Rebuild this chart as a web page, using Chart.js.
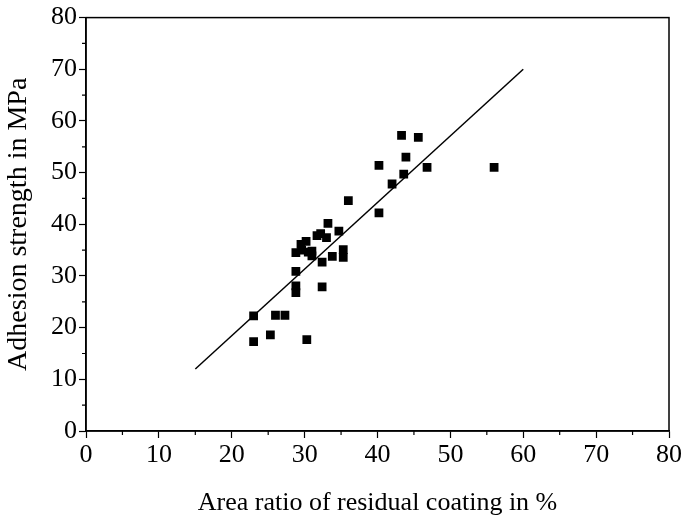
<!DOCTYPE html>
<html>
<head>
<meta charset="utf-8">
<script src="https://cdn.jsdelivr.net/npm/chart.js@4"></script>
<style>
  html, body { margin: 0; padding: 0; background: #fff; }
  #wrap { width: 685px; height: 520px; }
</style>
</head>
<body>
<div id="wrap"><canvas id="myChart"></canvas></div>
<script>
// measured points: area ratio (%) vs adhesion strength (MPa)
const areaRatio = [23.0, 23.0, 25.3, 26.0, 27.3, 28.8, 28.8, 28.8, 28.8, 29.5, 29.6, 30.2, 30.3, 30.5, 31.0, 31.0,
  31.7, 32.2, 32.4, 32.4, 33.0, 33.2, 33.8, 34.7, 35.3, 35.3, 36.0, 40.2, 40.2, 42.0, 43.3, 43.6, 43.9, 45.6, 46.8, 56.0];
const adhesion = [22.3, 17.3, 18.6, 22.4, 22.4, 30.9, 28.1, 26.8, 34.5, 36.1, 35.0, 36.7, 17.7, 34.6, 33.9, 34.8,
  37.8, 38.2, 32.7, 27.9, 37.4, 40.2, 33.8, 38.7, 35.1, 33.6, 44.6, 51.4, 42.2, 47.8, 57.2, 49.7, 53.0, 56.8, 51.0, 51.0];

// fitted line end points
const fitX = [15, 60];
const fitY = [12, 70];

const xTicks = [0, 10, 20, 30, 40, 50, 60, 70, 80];
const yTicks = [0, 10, 20, 30, 40, 50, 60, 70, 80];

const font = 'Liberation Serif';

// frame + minor ticks
const frame = {
  id: 'frame',
  afterDraw(chart) {
    const { ctx, chartArea: a, scales } = chart;
    ctx.save();
    ctx.strokeStyle = '#000';
    ctx.lineWidth = 1.5;
    ctx.strokeRect(a.left, a.top, a.right - a.left, a.bottom - a.top);
    ctx.lineWidth = 1.2;
    ctx.beginPath();
    for (let v = 5; v < 80; v += 10) {
      const px = scales.x.getPixelForValue(v);
      ctx.moveTo(px, a.bottom);
      ctx.lineTo(px, a.bottom + 4);
      const py = scales.y.getPixelForValue(v);
      ctx.moveTo(a.left, py);
      ctx.lineTo(a.left - 4, py);
    }
    ctx.stroke();
    ctx.restore();
  }
};

new Chart(document.getElementById('myChart'), {
  type: 'scatter',
  data: {
    datasets: [{
      data: areaRatio.map((x, i) => ({ x: x, y: adhesion[i] })),
      pointStyle: 'rect',
      pointRadius: 6.2,
      backgroundColor: '#000',
      borderColor: '#000',
      borderWidth: 0
    }, {
      data: fitX.map((x, i) => ({ x: x, y: fitY[i] })),
      showLine: true,
      pointRadius: 0,
      borderColor: '#000',
      borderWidth: 1.5
    }]
  },
  options: {
    responsive: true,
    maintainAspectRatio: false,
    animation: false,
    layout: { padding: { top: 13, right: 16, left: 0, bottom: 0 } },
    plugins: { legend: { display: false }, tooltip: { enabled: false } },
    scales: {
      x: {
        type: 'linear',
        min: 0, max: 80,
        afterBuildTicks: s => { s.ticks = xTicks.map(v => ({ value: v })); },
        afterFit: s => { s.height = 89; },
        grid: { display: true, drawOnChartArea: false, tickLength: 7, tickColor: '#000', tickWidth: 1.2 },
        border: { display: true, color: '#000', width: 1.5 },
        ticks: { color: '#000', font: { family: font, size: 26 }, padding: 2, maxRotation: 0 },
        title: { display: true, text: 'Area ratio of residual coating in %', color: '#000',
          font: { family: font, size: 26 }, padding: { top: 0, bottom: 1 } }
      },
      y: {
        type: 'linear',
        min: 0, max: 80,
        afterBuildTicks: s => { s.ticks = yTicks.map(v => ({ value: v })); },
        afterFit: s => { s.width = 86; },
        grid: { display: true, drawOnChartArea: false, tickLength: 7, tickColor: '#000', tickWidth: 1.2 },
        border: { display: true, color: '#000', width: 1.5 },
        ticks: { color: '#000', font: { family: font, size: 26 }, padding: 2 },
        title: { display: true, text: 'Adhesion strength in MPa', color: '#000',
          font: { family: font, size: 28 }, padding: { top: 2, bottom: 0 } }
      }
    }
  },
  plugins: [frame]
});
</script>
</body>
</html>
